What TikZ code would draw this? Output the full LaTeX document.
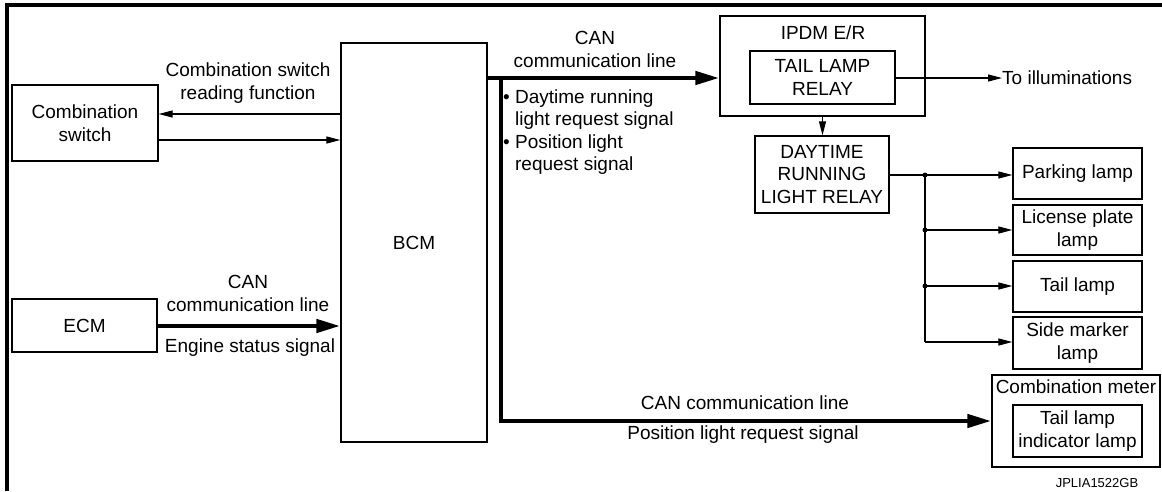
\documentclass[tikz,border=0pt]{standalone}
\usepackage{fontspec}
\setmainfont{Liberation Sans}
\usetikzlibrary{arrows.meta,calc}
\begin{document}
\begin{tikzpicture}[x=1pt,y=-1pt,
  every node/.style={font=\fontsize{19}{22.5}\selectfont, inner sep=0pt},
  box/.style={draw, line width=1.3pt},
  lamp/.style={box, minimum width=129pt, align=center},
  thinarr/.style={line width=1.2pt, -{Triangle[length=14pt,width=7pt]}},
  thickarr/.style={line width=4.5pt, -{Triangle[length=24pt,width=13pt]}},
  thinline/.style={line width=1.2pt}]
\useasboundingbox (0,0) rectangle (1162,491);
% frame
\draw[line width=4pt] (7,491) -- (7,5) -- (1162,5);
% boxes
\node[box,minimum width=146pt,minimum height=76pt,align=center] (cs) at (85,123) {Combination\\switch};
\node[box,minimum width=145pt,minimum height=53pt] (ecm) at (84.5,325.5) {ECM};
\node[box,minimum width=146pt,minimum height=399pt] (bcm) at (414,242.5) {BCM};
\node[box,minimum width=205pt,minimum height=100pt] (ipdm) at (822.5,66) {};
\node (ipdmt) at (823,33) {IPDM E/R};
\node[box,minimum width=145pt,minimum height=53pt,align=center] (tlr) at (822.5,77.5) {TAIL LAMP\\RELAY};
\node[box,minimum width=134pt,minimum height=77pt,align=center] (drl) at (822,174.5) {DAYTIME\\RUNNING\\LIGHT RELAY};
\node[lamp,minimum height=51pt] (park) at (1077.5,173.5) {Parking lamp};
\node[lamp,minimum height=50pt] (lic) at (1077.5,230) {License plate\\lamp};
\node[lamp,minimum height=51pt] (tail) at (1077.5,286.5) {Tail lamp};
\node[lamp,minimum height=52pt] (side) at (1077.5,343) {Side marker\\lamp};
\node[box,minimum width=168pt,minimum height=92pt] (cmeter) at (1076,421) {};
\node (cmt) at (1076,387) {Combination meter};
\node[lamp,minimum height=52pt] (tli) at (1077.5,431) {Tail lamp\\indicator lamp};
% connectors
\draw[thinarr] (bcm.west |- 0,114) -- (cs.east |- 0,114);
\draw[thinarr] (cs.east |- 0,140) -- (bcm.west |- 0,140);
\draw[thickarr] (ecm.east |- 0,326) -- (bcm.west |- 0,326);
\coordinate (j) at (501,78);
\draw[thickarr] (bcm.east |- j) -- (ipdm.west |- j);
\draw[thickarr] (j) |- (cmeter.west);
\node[anchor=west] (illt) at (1002,78) {To illuminations};
\draw[thinarr] (tlr.east |- illt.west) -- (illt.west);
\draw[thinarr] (ipdm.south) -- (ipdm.south |- drl.north);
\coordinate (b1) at (925,175);
\coordinate (b2) at (925,230);
\coordinate (b3) at (925,286);
\coordinate (b4) at (925,342);
\draw[thinarr] (drl.east |- b1) -- (park.west |- b1);
\draw[thinline] (b1) -- (b4);
\draw[thinarr] (b2) -- (lic.west |- b2);
\draw[thinarr] (b3) -- (tail.west |- b3);
\draw[thinarr] (b4) -- (side.west |- b4);
\fill (b1) circle (2.5pt);
\fill (b2) circle (2.5pt);
\fill (b3) circle (2.5pt);
% labels
\node[align=center] (l1) at (248,83) {Combination switch\\reading function};
\node[align=center] (l2) at (248,293.5) {CAN\\communication line};
\node (l3) at (250,348) {Engine status signal};
\node[align=center] (l4) at (595,49.5) {CAN\\communication line};
\node[align=left,anchor=west] (l5) at (503,132) {• Daytime running\\\hphantom{• }light request signal\\• Position light\\\hphantom{• }request signal};
\node (l6) at (745,403) {CAN communication line};
\node (l7) at (743,435) {Position light request signal};
\node[font=\fontsize{13}{15}\selectfont] (code) at (1097,483) {JPLIA1522GB};
\end{tikzpicture}
\end{document}
